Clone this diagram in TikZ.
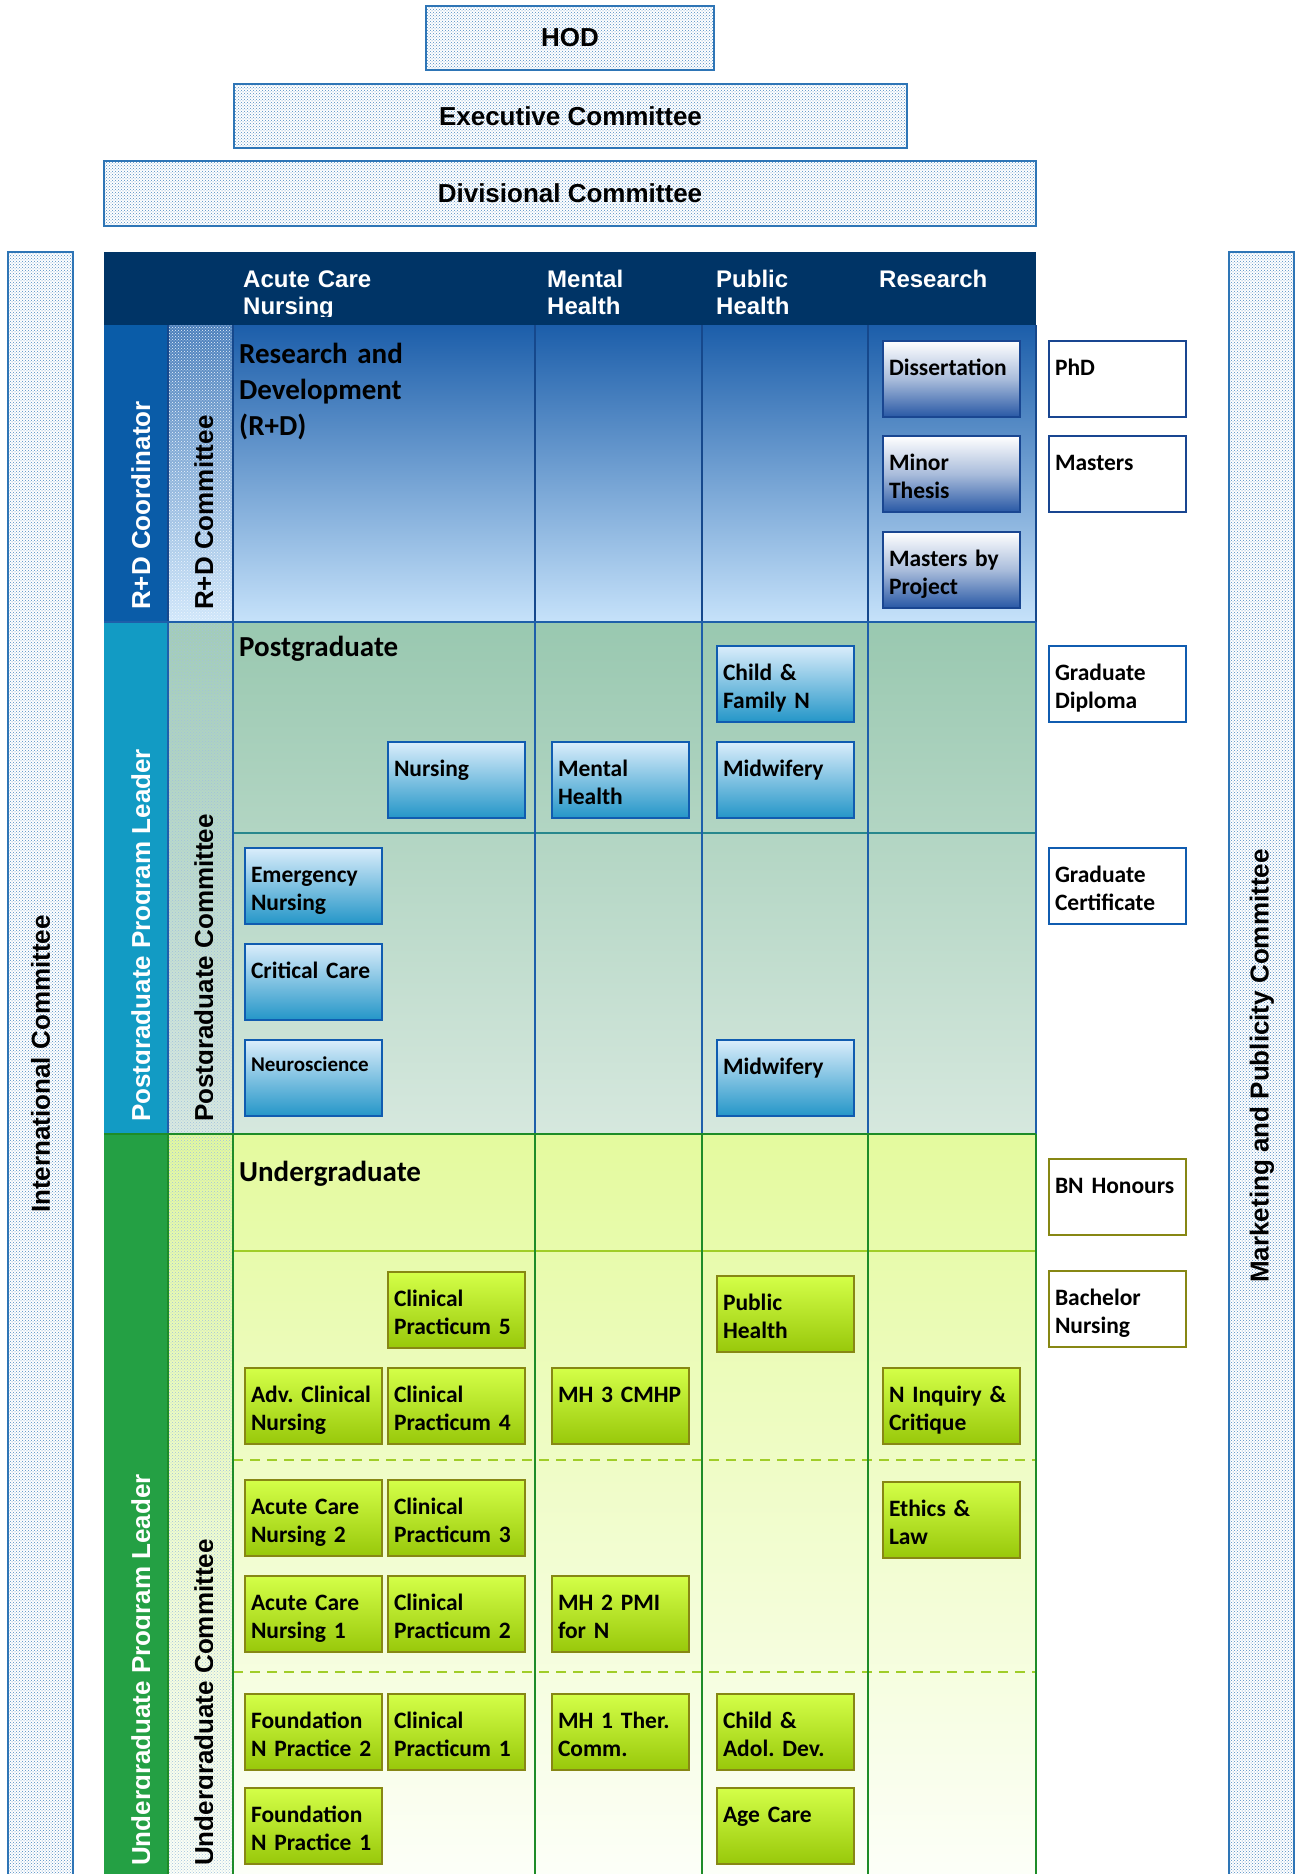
\documentclass[tikz,border=0pt]{standalone}
\usepackage{fontspec}
\setmainfont{Carlito}
\newfontfamily\arialfont{Liberation Sans}
\usepackage{tikz}
\usetikzlibrary{patterns, calc}
\frenchspacing

\definecolor{hodblue}{RGB}{46,117,182}
\definecolor{navy}{RGB}{0,52,102}
\definecolor{rdlead}{RGB}{10,92,168}
\definecolor{rdtop}{RGB}{28,94,170}
\definecolor{rdbot}{RGB}{198,226,250}
\definecolor{rdline}{RGB}{22,72,140}
\definecolor{pglead}{RGB}{18,155,196}
\definecolor{pgtop}{RGB}{153,200,176}
\definecolor{pgbot}{RGB}{214,232,222}
\definecolor{pgline}{RGB}{30,95,170}
\definecolor{tealline}{RGB}{40,135,140}
\definecolor{uglead}{RGB}{36,160,68}
\definecolor{ugtop}{RGB}{228,250,158}
\definecolor{ugbot}{RGB}{253,255,250}
\definecolor{ugline}{RGB}{30,140,40}
\definecolor{limeline}{RGB}{160,205,40}
\definecolor{rdboxbot}{RGB}{40,88,165}
\definecolor{rdboxedge}{RGB}{25,70,145}
\definecolor{pgboxtop}{RGB}{218,237,251}
\definecolor{pgboxbot}{RGB}{36,150,200}
\definecolor{pgboxedge}{RGB}{16,92,176}
\definecolor{ugboxtop}{RGB}{212,255,72}
\definecolor{ugboxbot}{RGB}{152,200,10}
\definecolor{ugboxedge}{RGB}{135,135,20}

\newcommand{\boxfont}{\fontsize{23.5pt}{28.7pt}\selectfont\bfseries}
\newcommand{\smallboxfont}{\fontsize{21pt}{26pt}\selectfont\bfseries}
\newcommand{\titlefont}{\fontsize{29pt}{36pt}\selectfont\bfseries}
\newcommand{\headfont}{\arialfont\fontsize{24pt}{27pt}\selectfont\bfseries}
\newcommand{\sidefont}{\arialfont\fontsize{26pt}{30pt}\selectfont\bfseries}

\tikzset{
  dotfill/.style={preaction={fill=white}, pattern=crosshatch dots, pattern color=#1},
  topbox/.style={draw=hodblue, line width=2pt, dotfill=hodblue!85, font=\sidefont, inner sep=0pt},
  course/.style={anchor=north west, draw, line width=2pt, minimum width=137pt, minimum height=76pt,
    inner sep=0pt, text width=125pt, text height=34pt, text depth=42pt, align=left, font=\boxfont},
  rdbox/.style={course, draw=rdboxedge, top color=white, bottom color=rdboxbot, middle color=rdboxbot!40!white},
  pgbox/.style={course, draw=pgboxedge, top color=pgboxtop, bottom color=pgboxbot},
  ugbox/.style={course, draw=ugboxedge, top color=ugboxtop, bottom color=ugboxbot},
  award/.style={course, fill=white, draw=#1},
  vlabel/.style={rotate=90, anchor=base west, inner sep=0pt, font=\sidefont},
  rowtitle/.style={anchor=base west, inner sep=0pt, text width=320pt, align=left, font=\titlefont},
  colhead/.style={anchor=base west, inner sep=0pt, text width=150pt, align=left, font=\headfont, text=white},
}

\begin{document}
\begin{tikzpicture}[x=1pt, y=-1pt]
	\useasboundingbox (0,0) rectangle (1295,1874);
	\clip (0,0) rectangle (1295,1874);

	\def\xLead{104}
	\def\xComm{168}
	\def\xAcute{233}
	\def\xMental{535}
	\def\xPublic{702}
	\def\xRes{868}
	\def\xEnd{1036}
	\def\yRD{325}
	\def\yPG{622}
	\def\yUG{1134}
	\def\yEnd{1890}

	% committees on top
	\node[topbox, minimum width=288pt, minimum height=64pt] (hod) at (570,38) {HOD};
	\node[topbox, minimum width=673pt, minimum height=64pt] (exec) at (570.5,116) {Executive Committee};
	\node[topbox, minimum width=932pt, minimum height=65pt] (div) at (570,193.5) {Divisional Committee};

	% side bars
	\draw[hodblue, line width=2pt, dotfill=hodblue!85] (8,252) rectangle (73,\yEnd);
	\draw[hodblue, line width=2pt, dotfill=hodblue!85] (1229,252) rectangle (1294,\yEnd);
	\node[rotate=90, font=\sidefont, inner sep=0pt] (intl) at (40.5,1064) {International Committee};
	\node[rotate=90, font=\sidefont, inner sep=0pt] (mkt) at (1262,1066) {Marketing and Publicity Committee};

	% header
	\fill[navy] (\xLead,252) rectangle (\xEnd,\yRD);

	% R+D rows
	\fill[rdlead] (\xLead,\yRD) rectangle (\xComm,\yPG);
	\shade[top color=rdtop, bottom color=rdbot] (\xComm,\yRD) rectangle (\xEnd,\yPG);
	\fill[white, opacity=.2] (\xComm,\yRD) rectangle (\xAcute,\yPG);
	\fill[pattern=crosshatch dots, pattern color=white!70!rdbot] (\xComm,\yRD) rectangle (\xAcute,\yPG);

	% postgraduate rows
	\fill[pglead] (\xLead,\yPG) rectangle (\xComm,\yUG);
	\shade[top color=pgtop, bottom color=pgbot] (\xComm,\yPG) rectangle (\xEnd,\yUG);
	\fill[white, opacity=.1] (\xComm,\yPG) rectangle (\xAcute,\yUG);
	\fill[pattern=crosshatch dots, pattern color=hodblue!45] (\xComm,\yPG) rectangle (\xAcute,\yUG);

	% undergraduate rows
	\fill[uglead] (\xLead,\yUG) rectangle (\xComm,\yEnd);
	\shade[top color=ugtop, bottom color=ugbot] (\xComm,\yUG) rectangle (\xEnd,\yEnd);
	\fill[pattern=crosshatch dots, pattern color=hodblue!45] (\xComm,\yUG) rectangle (\xAcute,\yEnd);

	% grid
	\draw[limeline, line width=1.5pt] (\xAcute,1251) -- (\xEnd,1251);
	\draw[limeline, line width=2pt, dash pattern=on 10pt off 7pt] (\xAcute,1460) -- (\xEnd,1460);
	\draw[limeline, line width=2pt, dash pattern=on 10pt off 7pt] (\xAcute,1672) -- (\xEnd,1672);
	\draw[tealline, line width=2pt] (\xAcute,833) -- (\xEnd,833);
	\draw[rdline, line width=2pt] (\xComm,\yRD) -- (\xComm,\yPG) (\xAcute,\yRD) -- (\xAcute,\yPG)
		(\xMental,\yRD) -- (\xMental,\yPG) (\xPublic,\yRD) -- (\xPublic,\yPG)
		(\xRes,\yRD) -- (\xRes,\yPG) (\xEnd,\yRD) -- (\xEnd,\yPG);
	\draw[pgline, line width=2pt] (\xComm,\yPG) -- (\xComm,\yUG) (\xAcute,\yPG) -- (\xAcute,\yUG)
		(\xMental,\yPG) -- (\xMental,\yUG) (\xPublic,\yPG) -- (\xPublic,\yUG)
		(\xRes,\yPG) -- (\xRes,\yUG) (\xEnd,\yPG) -- (\xEnd,\yUG);
	\draw[ugline, line width=2pt] (\xComm,\yUG) -- (\xComm,\yEnd) (\xAcute,\yUG) -- (\xAcute,\yEnd)
		(\xMental,\yUG) -- (\xMental,\yEnd) (\xPublic,\yUG) -- (\xPublic,\yEnd)
		(\xRes,\yUG) -- (\xRes,\yEnd) (\xEnd,\yUG) -- (\xEnd,\yEnd);
	\draw[pgline, line width=2pt] (\xLead,\yPG) -- (\xEnd,\yPG);
	\draw[ugline, line width=2pt] (\xLead,\yUG) -- (\xEnd,\yUG);

	% column heads
	\begin{scope}
		\clip (\xAcute,252) rectangle (\xEnd,316);
		\node[colhead] (hacute) at (243,287) {Acute Care\\Nursing};
		\node[colhead] (hmental) at (547,287) {Mental\\Health};
		\node[colhead] (hpublic) at (716,287) {Public\\Health};
		\node[colhead] (hres) at (879,287) {Research};
	\end{scope}

	% leaders and committees
	\begin{scope}
		\clip (\xLead,\yRD) rectangle (149.6,\yEnd) (\xComm,\yRD) rectangle (212.6,\yEnd);
		\node[vlabel, text=white] (rdcoord) at (150,610) {R+D Coordinator};
		\node[vlabel] (rdcomm) at (213,610) {R+D Committee};
		\node[vlabel, text=white] (pglead) at (150,1122) {Postgraduate Program Leader};
		\node[vlabel] (pgcomm) at (213,1122) {Postgraduate Committee};
		\node[vlabel, text=white] (uglead) at (150,1866) {Undergraduate Program Leader};
		\node[vlabel] (ugcomm) at (213,1866) {Undergraduate Committee};
	\end{scope}

	\node[rowtitle] (rdtitle) at (239,363) {Research and\\Development\\(R+D)};
	\node[rowtitle] (pgtitle) at (239,656) {Postgraduate};
	\node[rowtitle] (ugtitle) at (239,1181) {Undergraduate};

	% research
	\node[rdbox] (diss) at (882,340) {Dissertation};
	\node[rdbox] (minor) at (882,435) {Minor\\Thesis};
	\node[rdbox] (mproj) at (882,531) {Masters by\\Project};
	\node[award=rdboxedge] (phd) at (1048,340) {PhD};
	\node[award=rdboxedge] (masters) at (1048,435) {Masters};

	% postgraduate
	\node[pgbox] (childfam) at (716,645) {Child \&\\Family N};
	\node[pgbox] (pgnurs) at (387,741) {Nursing};
	\node[pgbox] (pgmh) at (551,741) {Mental\\Health};
	\node[pgbox] (pgmid) at (716,741) {Midwifery};
	\node[pgbox] (emerg) at (244,847) {Emergency\\Nursing};
	\node[pgbox] (crit) at (244,943) {Critical Care};
	\node[pgbox, font=\smallboxfont, text height=31pt, text depth=45pt] (neuro) at (244,1039) {Neuroscience};
	\node[pgbox] (pgmid2) at (716,1039) {Midwifery};
	\node[award=pgboxedge] (gdip) at (1048,645) {Graduate\\Diploma};
	\node[award=pgboxedge] (gcert) at (1048,847) {Graduate\\Certificate};

	% undergraduate
	\node[ugbox] (cp5) at (387,1271) {Clinical\\Practicum 5};
	\node[ugbox] (pubh) at (716,1275) {Public\\Health};
	\node[ugbox] (advcn) at (244,1367) {Adv. Clinical\\Nursing};
	\node[ugbox] (cp4) at (387,1367) {Clinical\\Practicum 4};
	\node[ugbox] (mh3) at (551,1367) {MH 3 CMHP};
	\node[ugbox] (ninq) at (882,1367) {N Inquiry \&\\Critique};
	\node[ugbox] (acn2) at (244,1479) {Acute Care\\Nursing 2};
	\node[ugbox] (cp3) at (387,1479) {Clinical\\Practicum 3};
	\node[ugbox] (ethics) at (882,1481) {Ethics \&\\Law};
	\node[ugbox] (acn1) at (244,1575) {Acute Care\\Nursing 1};
	\node[ugbox] (cp2) at (387,1575) {Clinical\\Practicum 2};
	\node[ugbox] (mh2) at (551,1575) {MH 2 PMI\\for N};
	\node[ugbox] (fnp2) at (244,1693) {Foundation\\N Practice 2};
	\node[ugbox] (cp1) at (387,1693) {Clinical\\Practicum 1};
	\node[ugbox] (mh1) at (551,1693) {MH 1 Ther.\\Comm.};
	\node[ugbox] (cad) at (716,1693) {Child \&\\Adol. Dev.};
	\node[ugbox] (fnp1) at (244,1787) {Foundation\\N Practice 1};
	\node[ugbox] (agec) at (716,1787) {Age Care};
	\node[award=ugboxedge] (bnh) at (1048,1158) {BN Honours};
	\node[award=ugboxedge] (bn) at (1048,1270) {Bachelor\\Nursing};

\end{tikzpicture}
\end{document}
